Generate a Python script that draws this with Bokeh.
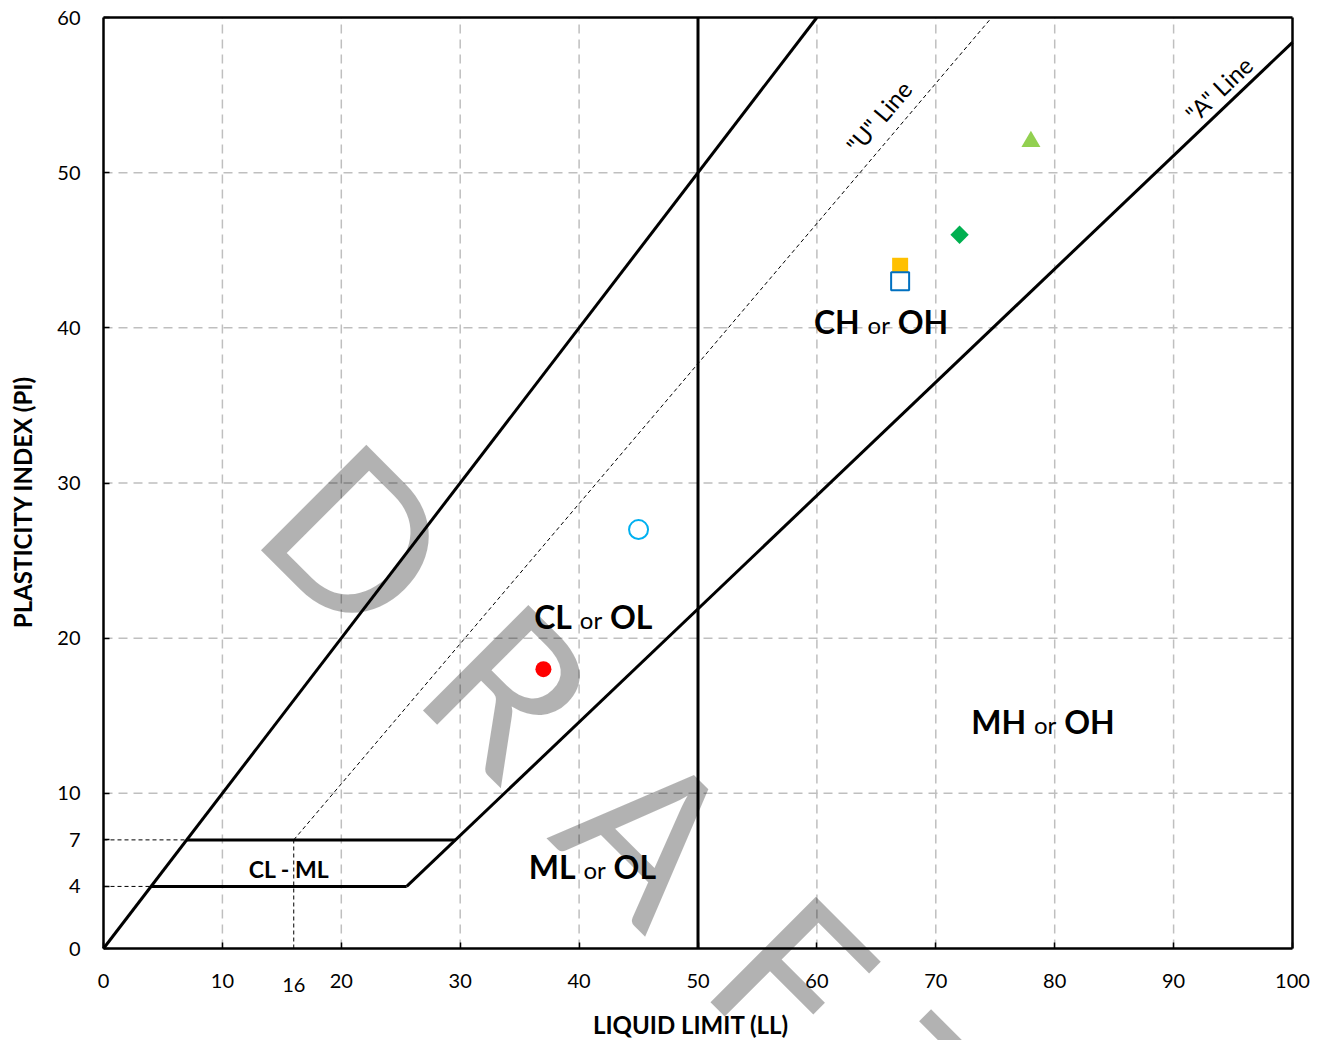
from bokeh.plotting import figure
from bokeh.models import Range1d, FixedTicker, Label, LinearAxis
from bokeh.core.properties import value
from bokeh.embed import file_html
from bokeh.resources import INLINE

# Test results: liquid limit (LL) and plasticity index (PI)
sample_ll = [37, 45, 67, 67, 72, 78]
sample_pi = [18, 27, 44, 43, 46, 52]

# Chart limits
x_limits = (0, 100)
y_limits = (0, 60)

# Classification boundaries, as (LL, PI) end points
upper_ll, upper_pi = [0, 60], [0, 60]            # PI = LL limit
a_line_ll, a_line_pi = [25.5, 100], [4, 58.4]     # "A" line
u_line_ll, u_line_pi = [16, 74.7], [7, 60]        # "U" line
ll50_ll, ll50_pi = [50, 50], [0, 60]              # LL = 50
clml_top_ll, clml_top_pi = [7, 29.6], [7, 7]      # CL-ML zone, PI = 7
clml_bot_ll, clml_bot_pi = [4, 25.5], [4, 4]      # CL-ML zone, PI = 4
ref7_ll, ref7_pi = [0, 7], [7, 7]
ref4_ll, ref4_pi = [0, 4], [4, 4]
ref16_ll, ref16_pi = [16, 16], [0, 7]

# Axis ticks and grid
x_ticks = [0, 10, 20, 30, 40, 50, 60, 70, 80, 90, 100]
y_ticks = [0, 4, 7, 10, 20, 30, 40, 50, 60]
x_grid = [10, 20, 30, 40, 50, 60, 70, 80, 90]
y_grid = [10, 20, 30, 40, 50]

# Zone names
zone_left = ["CH", "CL", "MH", "ML"]
zone_right = ["OH", "OL", "OH", "OL"]
zone_ll = [65.2, 41.0, 79.2, 41.3]
zone_pi = [40.4, 21.4, 14.6, 5.3]

FONT = "Lato"

# Canvas and plot-box geometry (pixels); the frame fills the whole canvas so
# that the watermark can run past the axes.
W, H = 1327, 1040
BOX_L, BOX_R, BOX_T, BOX_B = 103, 1292, 17, 948
sx = (BOX_R - BOX_L) / (x_limits[1] - x_limits[0])
sy = (BOX_B - BOX_T) / (y_limits[1] - y_limits[0])
x_range = Range1d(x_limits[0] - BOX_L / sx, x_limits[1] + (W - BOX_R) / sx)
y_range = Range1d(y_limits[0] - (H - BOX_B) / sy, y_limits[1] + BOX_T / sy)

p = figure(width=W, height=H, output_backend="svg", toolbar_location=None,
           x_range=x_range, y_range=y_range, min_border=0)
p.background_fill_color = "white"
p.border_fill_color = "white"
p.outline_line_color = None
p.grid.visible = False

# Main axes, pinned to the plot box
p.xaxis.fixed_location = y_limits[0]
p.xaxis.bounds = x_limits
p.xaxis.ticker = FixedTicker(ticks=x_ticks)
p.yaxis.fixed_location = x_limits[0]
p.yaxis.bounds = y_limits
p.yaxis.ticker = FixedTicker(ticks=y_ticks)
for ax in (p.xaxis, p.yaxis):
    ax.axis_line_color = "black"
    ax.axis_line_width = 2.5
    ax.major_tick_in = 6
    ax.major_tick_out = 0
    ax.major_tick_line_color = "black"
    ax.major_tick_line_width = 1.5
    ax.minor_tick_line_color = None
    ax.major_label_text_font = FONT
    ax.major_label_text_font_size = "20px"
    ax.major_label_text_color = "black"
p.xaxis.major_label_standoff = 25
p.yaxis.major_label_standoff = 23

# Top and right edges of the plot box
top_axis = LinearAxis(fixed_location=y_limits[1], bounds=x_limits,
                      ticker=FixedTicker(ticks=[]))
right_axis = LinearAxis(fixed_location=x_limits[1], bounds=y_limits,
                        ticker=FixedTicker(ticks=[]))
for ax in (top_axis, right_axis):
    ax.axis_line_color = "black"
    ax.axis_line_width = 2.5
    ax.major_tick_line_color = None
    ax.minor_tick_line_color = None
    ax.major_label_text_font_size = "0px"
p.add_layout(top_axis, "above")
p.add_layout(right_axis, "right")

# Dashed grid inside the plot box
p.segment(x0=x_grid, y0=[y_limits[0]] * len(x_grid), x1=x_grid,
          y1=[y_limits[1]] * len(x_grid),
          line_color="#bfbfbf", line_width=1.5, line_dash="9 6")
p.segment(x0=[x_limits[0]] * len(y_grid), y0=y_grid,
          x1=[x_limits[1]] * len(y_grid), y1=y_grid,
          line_color="#bfbfbf", line_width=1.5, line_dash="9 6")

# Boundary lines
p.multi_line(xs=[upper_ll, a_line_ll, ll50_ll, clml_top_ll, clml_bot_ll],
             ys=[upper_pi, a_line_pi, ll50_pi, clml_top_pi, clml_bot_pi],
             line_color="black", line_width=3)
p.line(u_line_ll, u_line_pi, line_color="black", line_width=1, line_dash="4 3")
p.multi_line(xs=[ref7_ll, ref4_ll, ref16_ll], ys=[ref7_pi, ref4_pi, ref16_pi],
             line_color="black", line_width=1, line_dash="4 3")

# Sample points
p.scatter([sample_ll[0]], [sample_pi[0]], marker="circle", size=16,
          fill_color="#ff0000", line_color=None)
p.scatter([sample_ll[1]], [sample_pi[1]], marker="circle", size=19,
          fill_color="white", line_color="#00b0f0", line_width=2)
p.scatter([sample_ll[2]], [sample_pi[2]], marker="square", size=16,
          fill_color="#ffc000", line_color=None)
p.scatter([sample_ll[3]], [sample_pi[3]], marker="square", size=18,
          fill_color="white", line_color="#0070c0", line_width=2)
p.scatter([sample_ll[4]], [sample_pi[4]], marker="square", size=13, angle=45,
          angle_units="deg", fill_color="#00b050", line_color=None)
p.scatter([sample_ll[5]], [sample_pi[5]], marker="triangle", size=19,
          fill_color="#92d050", line_color=None)

# Zone names: bold group symbols around a smaller "or"
p.text(x=zone_ll, y=zone_pi, text=["or"] * len(zone_ll), y_offset=3,
       text_align="center", text_baseline="middle", text_font=value(FONT),
       text_font_size="24px", text_color="black")
p.text(x=zone_ll, y=zone_pi, text=zone_left, x_offset=-19, text_align="right",
       text_baseline="middle", text_font=value(FONT), text_font_style="bold",
       text_font_size="32px", text_color="black")
p.text(x=zone_ll, y=zone_pi, text=zone_right, x_offset=19, text_align="left",
       text_baseline="middle", text_font=value(FONT), text_font_style="bold",
       text_font_size="32px", text_color="black")
p.text(x=[15.6], y=[5.15], text=["CL - ML"], text_align="center",
       text_baseline="middle", text_font=value(FONT), text_font_style="bold",
       text_font_size="23px", text_color="black")

# Line names
p.text(x=[65.2], y=[53.6], text=['"U" Line'], angle=49.6, angle_units="deg",
       text_align="center", text_baseline="middle", text_font=value(FONT),
       text_font_size="24px", text_color="black")
p.text(x=[93.8], y=[55.4], text=['"A" Line'], angle=43.6, angle_units="deg",
       text_align="center", text_baseline="middle", text_font=value(FONT),
       text_font_size="24px", text_color="black")

# Extra tick label for LL = 16
p.add_layout(Label(x=16, y=-2.35, text="16", text_align="center",
                   text_baseline="middle", text_font=FONT, text_font_size="20px",
                   text_color="black"))

# Axis titles
p.add_layout(Label(x=49.4, y=-4.9, text="LIQUID LIMIT (LL)",
                   text_align="center", text_baseline="middle", text_font=FONT,
                   text_font_style="bold", text_font_size="24px", text_color="black"))
p.add_layout(Label(x=-6.81, y=28.77, text="PLASTICITY INDEX (PI)",
                   angle=90, angle_units="deg", text_align="center",
                   text_baseline="middle", text_font=FONT, text_font_style="bold",
                   text_font_size="24px", text_color="black"))

# Watermark letters along a diagonal, drawn on top with transparency
wm_letters = ["D", "R", "A", "F", "T"]
wm_ll = [21.6, 34.4, 46.2, 58.2, 69.0]
wm_pi = [26.6, 16.9, 7.6, -1.6, -9.7]
for ch, x, y in zip(wm_letters, wm_ll, wm_pi):
    p.add_layout(Label(x=x, y=y, text=ch, angle=-45, angle_units="deg",
                       text_font=FONT, text_font_size="208px", text_color="black",
                       text_alpha=0.3, text_align="center", text_baseline="middle"))

open("out.html", "w").write(file_html(p, INLINE))
